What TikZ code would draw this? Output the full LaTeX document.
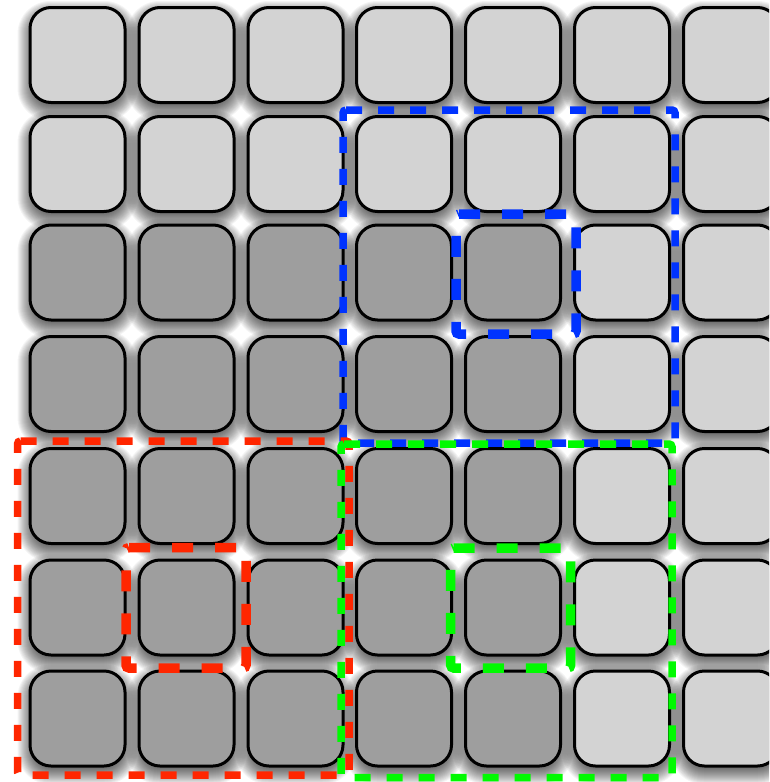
\documentclass[tikz,border=0pt]{standalone}
\usetikzlibrary{calc}
\definecolor{lightcell}{RGB}{211,211,211}
\definecolor{darkcell}{RGB}{158,158,158}
\definecolor{selblue}{RGB}{0,51,255}
\definecolor{selred}{RGB}{255,38,0}
\definecolor{selgreen}{RGB}{0,250,0}
\tikzset{
  cellbox/.style={draw=black, line width=3pt, rounded corners=21pt,
    minimum width=95pt, minimum height=95pt, inner sep=0pt},
  lightbox/.style={cellbox, fill=lightcell},
  darkbox/.style={cellbox, fill=darkcell},
  bigsel/.style={line width=7.5pt, dash pattern=on 16pt off 16pt, rounded corners=3pt},
  smallsel/.style={line width=9.5pt, dash pattern=on 21pt off 22pt, rounded corners=3pt},
}
\begin{document}
\begin{tikzpicture}[x=1pt,y=-1pt]
\useasboundingbox (0,0) rectangle (769,782);
\clip (0,0) rectangle (769,782);
\fill[white] (0,0) rectangle (769,782);
% soft shadows
\foreach \y in {55,164,272.5,384,496,607.5,718.5}{
  \foreach \x in {77.5,186.5,295.5,404,513,622,731}{
    \foreach \k in {-4,...,12}{
      \pgfmathsetmacro{\rr}{max(21+\k,4)}
      \fill[black, opacity=0.045, rounded corners=\rr pt]
        (\x-48-\k, \y-48-\k+6) rectangle (\x+48+\k, \y+48+\k+6);
    }
  }
}
% cells
\foreach \r/\y in {0/55,1/164,2/272.5,3/384,4/496,5/607.5,6/718.5}{
  \foreach \c/\x in {0/77.5,1/186.5,2/295.5,3/404,4/513,5/622,6/731}{
    \pgfmathtruncatemacro{\islight}{(\r<2)||(\c>4)}
    \ifnum\islight=1
      \node[lightbox] (cell-\r-\c) at (\x,\y) {};
    \else
      \node[darkbox] (cell-\r-\c) at (\x,\y) {};
    \fi
  }
}
% selections
\draw[selblue, bigsel] (343,110) -- (675,110) -- (675,443) -- (343,443) -- cycle;
\draw[selblue, smallsel] (456,214) -- (576,214) -- (576,334) -- (456,334) -- cycle;
\draw[selred, bigsel] (17.5,441) -- (349,441) -- (349,775) -- (17.5,775) -- cycle;
\draw[selred, smallsel] (126,547.5) -- (246,547.5) -- (246,668) -- (126,668) -- cycle;
\draw[selgreen, bigsel] (341,444) -- (672,444) -- (672,777.5) -- (341,777.5) -- cycle;
\draw[selgreen, smallsel] (450.7,548) -- (570.7,548) -- (570.7,668) -- (450.7,668) -- cycle;
\end{tikzpicture}
\end{document}
